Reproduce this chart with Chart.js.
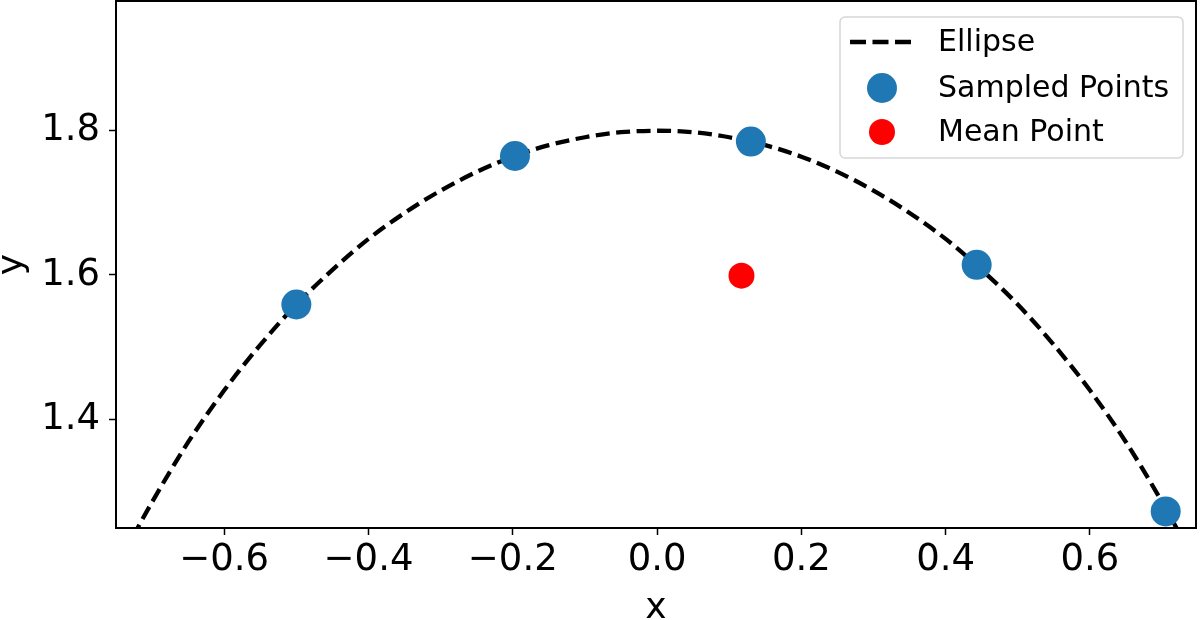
<!DOCTYPE html>
<html lang="en">
<head>
  <meta charset="UTF-8" />
  <title>Ellipse Samples</title>
  <script src="https://cdn.jsdelivr.net/npm/chart.js"></script>
  <style>
    * { margin: 0; padding: 0; box-sizing: border-box; }
    body { background: #fff; width: 1200px; height: 620px; overflow: hidden; }
    canvas { display: block; }
  </style>
</head>
<body>
  <canvas id="ellipseChart" width="1200" height="620"></canvas>

  <script>
    // values
    const ellipseX = [-0.74, -0.72, -0.70, -0.65, -0.60, -0.55, -0.50, -0.45, -0.40, -0.35, -0.30, -0.25, -0.20, -0.15, -0.10, -0.05,
                      0.00, 0.05, 0.10, 0.15, 0.20, 0.25, 0.30, 0.35, 0.40, 0.45, 0.50, 0.55, 0.60, 0.65, 0.70, 0.72, 0.74];
    const ellipseY = [1.211, 1.249, 1.285, 1.368, 1.440, 1.503, 1.559, 1.607, 1.650, 1.686, 1.717, 1.743, 1.764, 1.780, 1.791, 1.798,
                      1.800, 1.798, 1.791, 1.780, 1.764, 1.743, 1.717, 1.686, 1.650, 1.607, 1.559, 1.503, 1.440, 1.368, 1.285, 1.249, 1.211];
    const sampledX = [-0.500, -0.197, 0.130, 0.443, 0.705];
    const sampledY = [1.559, 1.765, 1.785, 1.614, 1.272];
    const meanX = [0.117];
    const meanY = [1.599];
    const xTicks = [-0.6, -0.4, -0.2, 0.0, 0.2, 0.4, 0.6];
    const yTicks = [1.4, 1.6, 1.8];
    const legendLabels = ['Ellipse', 'Sampled Points', 'Mean Point'];

    const toPoints = (xs, ys) => xs.map((x, i) => ({ x: x, y: ys[i] }));
    const fmt = v => Number(v).toFixed(1).replace('-', '\u2212');
    const FONT = '"DejaVu Sans", sans-serif';
    const DASH = [14, 6.5];

    const frameAndLegend = {
      id: 'frameAndLegend',
      afterDraw(chart) {
        const { ctx, chartArea: a } = chart;
        ctx.save();
        // axes box
        ctx.strokeStyle = '#000';
        ctx.lineWidth = 2;
        ctx.strokeRect(a.left, a.top, a.right - a.left, a.bottom - a.top);

        // axis titles
        ctx.fillStyle = '#000';
        ctx.font = '36px ' + FONT;
        ctx.textAlign = 'center';
        ctx.textBaseline = 'alphabetic';
        ctx.fillText('x', (a.left + a.right) / 2, 618);
        ctx.save();
        ctx.translate(22, (a.top + a.bottom) / 2);
        ctx.rotate(-Math.PI / 2);
        ctx.fillText('y', 0, 0);
        ctx.restore();

        // legend box
        const bx = 840, by = 17, bw = 343, bh = 141, r = 5;
        ctx.beginPath();
        ctx.moveTo(bx + r, by);
        ctx.arcTo(bx + bw, by, bx + bw, by + bh, r);
        ctx.arcTo(bx + bw, by + bh, bx, by + bh, r);
        ctx.arcTo(bx, by + bh, bx, by, r);
        ctx.arcTo(bx, by, bx + bw, by, r);
        ctx.closePath();
        ctx.fillStyle = 'rgba(255,255,255,0.8)';
        ctx.fill();
        ctx.strokeStyle = '#d6d6d6';
        ctx.lineWidth = 1.5;
        ctx.stroke();

        const rows = [42, 88, 132];
        // dashed line sample
        ctx.beginPath();
        ctx.setLineDash([16, 6.5]);
        ctx.moveTo(850, rows[0]);
        ctx.lineTo(912, rows[0]);
        ctx.strokeStyle = '#000';
        ctx.lineWidth = 4.3;
        ctx.stroke();
        ctx.setLineDash([]);
        // markers
        ctx.beginPath();
        ctx.arc(882, rows[1], 15, 0, Math.PI * 2);
        ctx.fillStyle = '#1f77b4';
        ctx.fill();
        ctx.beginPath();
        ctx.arc(882, rows[2], 13, 0, Math.PI * 2);
        ctx.fillStyle = '#ff0000';
        ctx.fill();
        // labels
        ctx.fillStyle = '#000';
        ctx.font = '30px ' + FONT;
        ctx.textAlign = 'left';
        ctx.textBaseline = 'middle';
        legendLabels.forEach((t, i) => ctx.fillText(t, 938, rows[i] + 1));
        ctx.restore();
      }
    };

    const ctx = document.getElementById('ellipseChart').getContext('2d');

    new Chart(ctx, {
      type: 'scatter',
      data: {
        datasets: [
          {
            type: 'line',
            label: legendLabels[0],
            data: toPoints(ellipseX, ellipseY),
            borderColor: '#000',
            borderWidth: 4.3,
            borderDash: DASH,
            borderCapStyle: 'butt',
            pointRadius: 0,
            cubicInterpolationMode: 'monotone',
            fill: false,
            clip: 0,
            order: 3
          },
          {
            label: legendLabels[1],
            data: toPoints(sampledX, sampledY),
            backgroundColor: '#1f77b4',
            borderWidth: 0,
            pointRadius: 15,
            pointHoverRadius: 15,
            order: 2
          },
          {
            label: legendLabels[2],
            data: toPoints(meanX, meanY),
            backgroundColor: '#ff0000',
            borderWidth: 0,
            pointRadius: 13,
            pointHoverRadius: 13,
            order: 1
          }
        ]
      },
      options: {
        responsive: false,
        animation: false,
        layout: { autoPadding: false, padding: { top: 1, right: 4, left: 0, bottom: 0 } },
        plugins: {
          legend: { display: false },
          tooltip: { enabled: false }
        },
        scales: {
          x: {
            type: 'linear',
            min: -0.75,
            max: 0.747,
            afterBuildTicks: s => { s.ticks = xTicks.map(v => ({ value: v })); },
            afterFit: s => { s.height = 92; s.paddingLeft = 0; s.paddingRight = 0; },
            border: { display: false },
            grid: { drawOnChartArea: false, drawTicks: true, tickLength: 7, tickWidth: 1.5, tickColor: '#000' },
            ticks: {
              callback: v => fmt(v),
              color: '#000',
              font: { family: FONT, size: 37 },
              padding: 3,
              maxRotation: 0,
              autoSkip: false
            }
          },
          y: {
            type: 'linear',
            min: 1.249,
            max: 1.98,
            afterBuildTicks: s => { s.ticks = yTicks.map(v => ({ value: v })); },
            afterFit: s => { s.width = 116; s.paddingTop = 0; s.paddingBottom = 0; },
            border: { display: false },
            grid: { drawOnChartArea: false, drawTicks: true, tickLength: 7, tickWidth: 1.5, tickColor: '#000' },
            ticks: {
              callback: v => fmt(v),
              color: '#000',
              font: { family: FONT, size: 37 },
              padding: 9,
              autoSkip: false
            }
          }
        }
      },
      plugins: [frameAndLegend]
    });
  </script>
</body>
</html>
